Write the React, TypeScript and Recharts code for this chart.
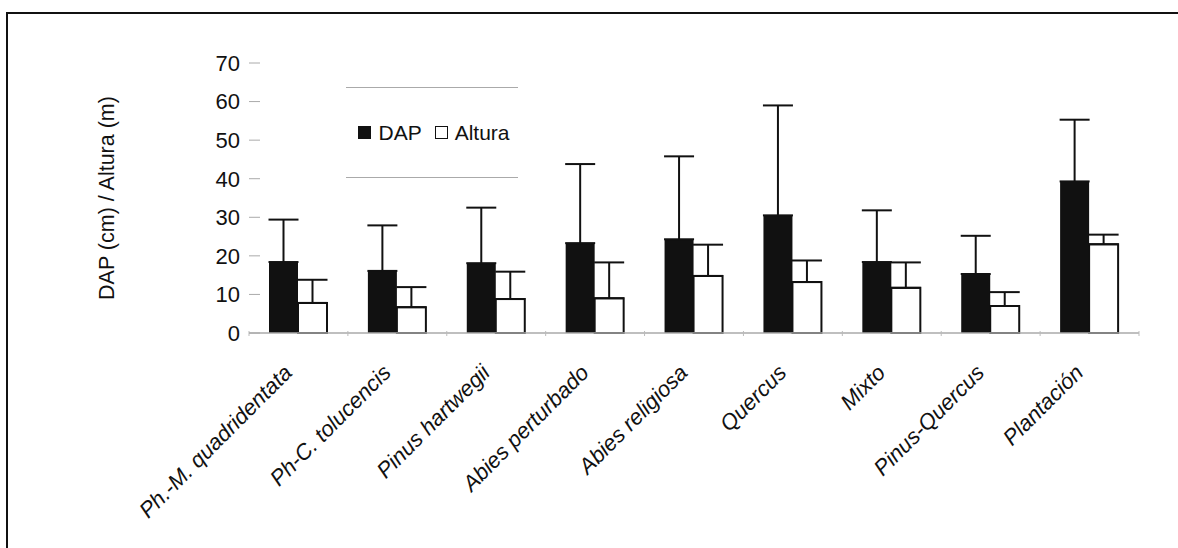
import { Bar, BarChart, ErrorBar, XAxis, YAxis } from 'recharts'

const categories = [
  'Ph.-M. quadridentata',
  'Ph-C. tolucencis',
  'Pinus hartwegii',
  'Abies perturbado',
  'Abies religiosa',
  'Quercus',
  'Mixto',
  'Pinus-Quercus',
  'Plantación',
]
const dap = [18.4, 16.1, 18.1, 23.3, 24.3, 30.5, 18.4, 15.3, 39.3]
const dapSd = [11.0, 11.8, 14.4, 20.5, 21.5, 28.5, 13.4, 9.9, 16.0]
const altura = [7.8, 6.7, 8.8, 9.0, 14.8, 13.2, 11.7, 7.0, 23.0]
const alturaSd = [6.0, 5.2, 7.1, 9.3, 8.1, 5.6, 6.6, 3.6, 2.5]
const yTicks = [0, 10, 20, 30, 40, 50, 60, 70]
const seriesNames = ['DAP', 'Altura']

const data = categories.map((name, i) => ({
  name,
  dap: dap[i],
  dapErr: [0, dapSd[i]],
  altura: altura[i],
  alturaErr: [0, alturaSd[i]],
}))

const W = 1178
const H = 548
const LEFT = 249
const RIGHT = 39
const TOP = 63
const X_AXIS_H = 215
const BAND = (W - LEFT - RIGHT) / categories.length
const FONT = '"Liberation Sans", Arial, Helvetica, sans-serif'
const INK = '#111'

function XTick({ x, y, payload, index }: any) {
  const ax = x - 5
  const ay = y + 41
  return (
    <g>
      <line x1={x - BAND / 2} x2={x - BAND / 2} y1={y - 2} y2={y + 3} stroke="#bbb" strokeWidth={1} />
      {index === categories.length - 1 && (
        <line x1={x + BAND / 2} x2={x + BAND / 2} y1={y - 2} y2={y + 3} stroke="#bbb" strokeWidth={1} />
      )}
      <text
        x={ax}
        y={ay}
        transform={`rotate(-45, ${ax}, ${ay})`}
        textAnchor="end"
        fontFamily={FONT}
        fontStyle="italic"
        fontSize={22}
        fill={INK}
      >
        {payload.value}
      </text>
    </g>
  )
}

function YTick({ x, y, payload }: any) {
  return (
    <g>
      <line x1={x} x2={x + 11} y1={y} y2={y} stroke="#aaa" strokeWidth={1} />
      <text x={x - 9} y={y} dy="0.36em" textAnchor="end" fontFamily={FONT} fontSize={22} fill={INK}>
        {payload.value}
      </text>
    </g>
  )
}

function YLabel() {
  const cx = 106
  const cy = 198
  return (
    <text
      x={cx}
      y={cy}
      dy="0.36em"
      transform={`rotate(-90, ${cx}, ${cy})`}
      textAnchor="middle"
      fontFamily={FONT}
      fontSize={21.5}
      fill={INK}
    >
      DAP (cm) / Altura (m)
    </text>
  )
}

function LegendBox() {
  return (
    <div
      style={{
        position: 'absolute',
        left: 346,
        top: 87,
        width: 172,
        height: 91,
        boxSizing: 'border-box',
        borderTop: '1px solid #aaa',
        borderBottom: '1px solid #aaa',
        display: 'flex',
        alignItems: 'center',
        justifyContent: 'center',
        fontFamily: FONT,
        fontSize: 21,
        color: INK,
        paddingLeft: 4,
      }}
    >
      {seriesNames.map((name, i) => (
        <span key={name} style={{ display: 'flex', alignItems: 'center', marginLeft: i ? 13 : 0 }}>
          <span
            style={{
              width: 13,
              height: 13,
              boxSizing: 'border-box',
              background: i === 0 ? INK : '#fff',
              border: `1.5px solid ${INK}`,
              marginRight: 7,
            }}
          />
          {name}
        </span>
      ))}
    </div>
  )
}

export default function App() {
  return (
    <div style={{ position: 'absolute', left: 0, top: 0, width: W, height: H, background: '#fff' }}>
      <div
        style={{
          position: 'absolute',
          left: 6,
          top: 12,
          width: W - 6,
          height: H - 12,
          borderTop: `2px solid ${INK}`,
          borderLeft: `2px solid ${INK}`,
          boxSizing: 'border-box',
        }}
      />
      <BarChart
        width={W}
        height={H}
        data={data}
        margin={{ top: TOP, right: RIGHT, bottom: 0, left: 0 }}
        barSize={29}
        barGap={0}
        style={{ position: 'absolute', left: 0, top: 0 }}
      >
        <XAxis
          dataKey="name"
          height={X_AXIS_H}
          interval={0}
          tickLine={false}
          tickSize={0}
          tickMargin={0}
          axisLine={{ stroke: '#aaa', strokeWidth: 1.5 }}
          tick={<XTick />}
        />
        <YAxis
          width={LEFT}
          domain={[0, 70]}
          ticks={yTicks}
          axisLine={false}
          tickLine={false}
          tickSize={0}
          tickMargin={0}
          tick={<YTick />}
          label={<YLabel />}
        />
        <Bar dataKey="dap" name={seriesNames[0]} fill={INK} isAnimationActive={false}>
          <ErrorBar dataKey="dapErr" direction="y" width={15} stroke={INK} strokeWidth={2} />
        </Bar>
        <Bar
          dataKey="altura"
          name={seriesNames[1]}
          fill="#fff"
          stroke={INK}
          strokeWidth={2}
          isAnimationActive={false}
        >
          <ErrorBar dataKey="alturaErr" direction="y" width={15} stroke={INK} strokeWidth={2} />
        </Bar>
      </BarChart>
      <LegendBox />
    </div>
  )
}
